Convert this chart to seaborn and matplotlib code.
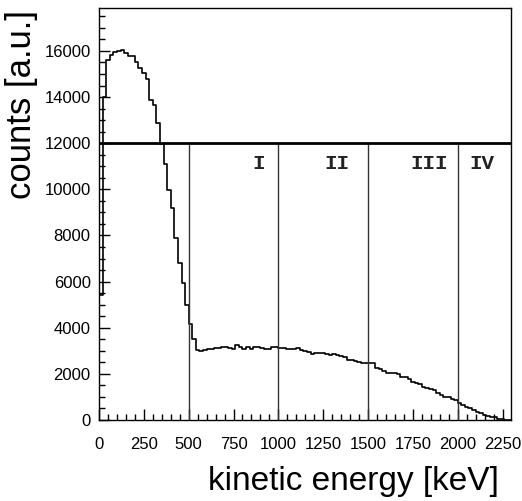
import numpy as np
import pandas as pd
import matplotlib
matplotlib.use("Agg")
import matplotlib.pyplot as plt
import seaborn as sns
from matplotlib.ticker import MultipleLocator

# ---- data ----
bin_width_kev = 20
counts = [
    5400, 14000, 15600, 15830, 15950, 16000, 16050, 15930, 15800, 15780,
    15540, 15250, 15040, 14800, 13880, 13660, 12870, 11970, 11100, 9975,
    9180, 7880, 6820, 5930, 4990, 4160, 3510, 3036,
    3007, 3036, 3065, 3094, 3110, 3122, 3150, 3180, 3122, 3065,
    3238, 3180, 3094, 3150, 3094, 3180, 3150, 3122, 3094, 3094,
    3180, 3150, 3122, 3100, 3065, 3065, 3094, 3122, 3036, 3000,
    2949, 2862, 2900, 2920, 2890, 2862, 2804, 2870, 2830, 2776, 2718,
    2602, 2580, 2573, 2515, 2470, 2457, 2480, 2486, 2255, 2226,
    2140, 2053, 2040, 2024, 1995, 1879, 1879, 1793, 1648, 1600,
    1561, 1446, 1400, 1359, 1301, 1157, 1070, 1012, 1000, 925,
    850, 720, 650, 580, 500, 434, 360, 300, 217, 170,
    145, 116, 60, 29, 0, 0,
]
region_bounds = [500, 1000, 1500, 2000]
threshold = 12000
region_labels = ["I", "II", "III", "IV"]
region_label_x = [892, 1325, 1842, 2134]
region_label_y = 11100
x_ticks = [0, 250, 500, 750, 1000, 1250, 1500, 1750, 2000, 2250]
y_ticks = [0, 2000, 4000, 6000, 8000, 10000, 12000, 14000, 16000]

n_bins = len(counts)
centers = (np.arange(n_bins) + 0.5) * bin_width_kev
df = pd.DataFrame({"energy": centers, "counts": counts})

sns.set_style("white")
plt.rcParams["font.family"] = ["Liberation Sans", "DejaVu Sans"]
plt.rcParams["text.color"] = "black"
plt.rcParams["axes.labelcolor"] = "black"

fig = plt.figure(figsize=(5.22, 5.01), dpi=100)
ax = fig.add_axes([99 / 522, 1 - 420 / 501, 412 / 522, 412 / 501])

sns.histplot(data=df, x="energy", weights="counts",
             binwidth=bin_width_kev, binrange=(0, n_bins * bin_width_kev),
             element="step", fill=False, color="black", linewidth=1.2, ax=ax)

# threshold line and region separators
ax.axhline(threshold, color="black", linewidth=2.0, zorder=3)
for b in region_bounds:
    ax.plot([b, b], [0, threshold], color="#333333", linewidth=1.0, zorder=2)
for lab, lx in zip(region_labels, region_label_x):
    ax.text(lx, region_label_y, lab, ha="center", va="center",
            fontsize=15, fontweight="bold",
            family=["Liberation Mono", "DejaVu Sans Mono"], color="#222222")

ax.set_xlim(0, 2297)
ax.set_ylim(0, 17860)
ax.set_xticks(x_ticks)
ax.set_xticklabels([str(t) for t in x_ticks])
ax.set_yticks(y_ticks)
ax.set_yticklabels([str(t) for t in y_ticks])
ax.xaxis.set_minor_locator(MultipleLocator(50))
ax.yaxis.set_minor_locator(MultipleLocator(500))
ax.tick_params(axis="both", which="both", direction="in", colors="black",
               labelsize=12, bottom=True, left=True, top=False, right=False)
ax.tick_params(axis="both", which="major", length=8, width=1.0)
ax.tick_params(axis="both", which="minor", length=4.5, width=1.0)
ax.tick_params(axis="x", which="major", pad=12)
ax.tick_params(axis="y", which="major", pad=6)

for sp in ax.spines.values():
    sp.set_color("black")
    sp.set_linewidth(1.0)
    sp.set_visible(True)

ax.set_xlabel("kinetic energy [keV]", loc="right", fontsize=24, color="black")
ax.set_ylabel("counts [a.u.]", loc="top", fontsize=25, color="black")
ax.xaxis.set_label_coords(0.971, -0.112)
ax.yaxis.set_label_coords(-0.148, 0.995)

fig.savefig("out.png", dpi=100)
